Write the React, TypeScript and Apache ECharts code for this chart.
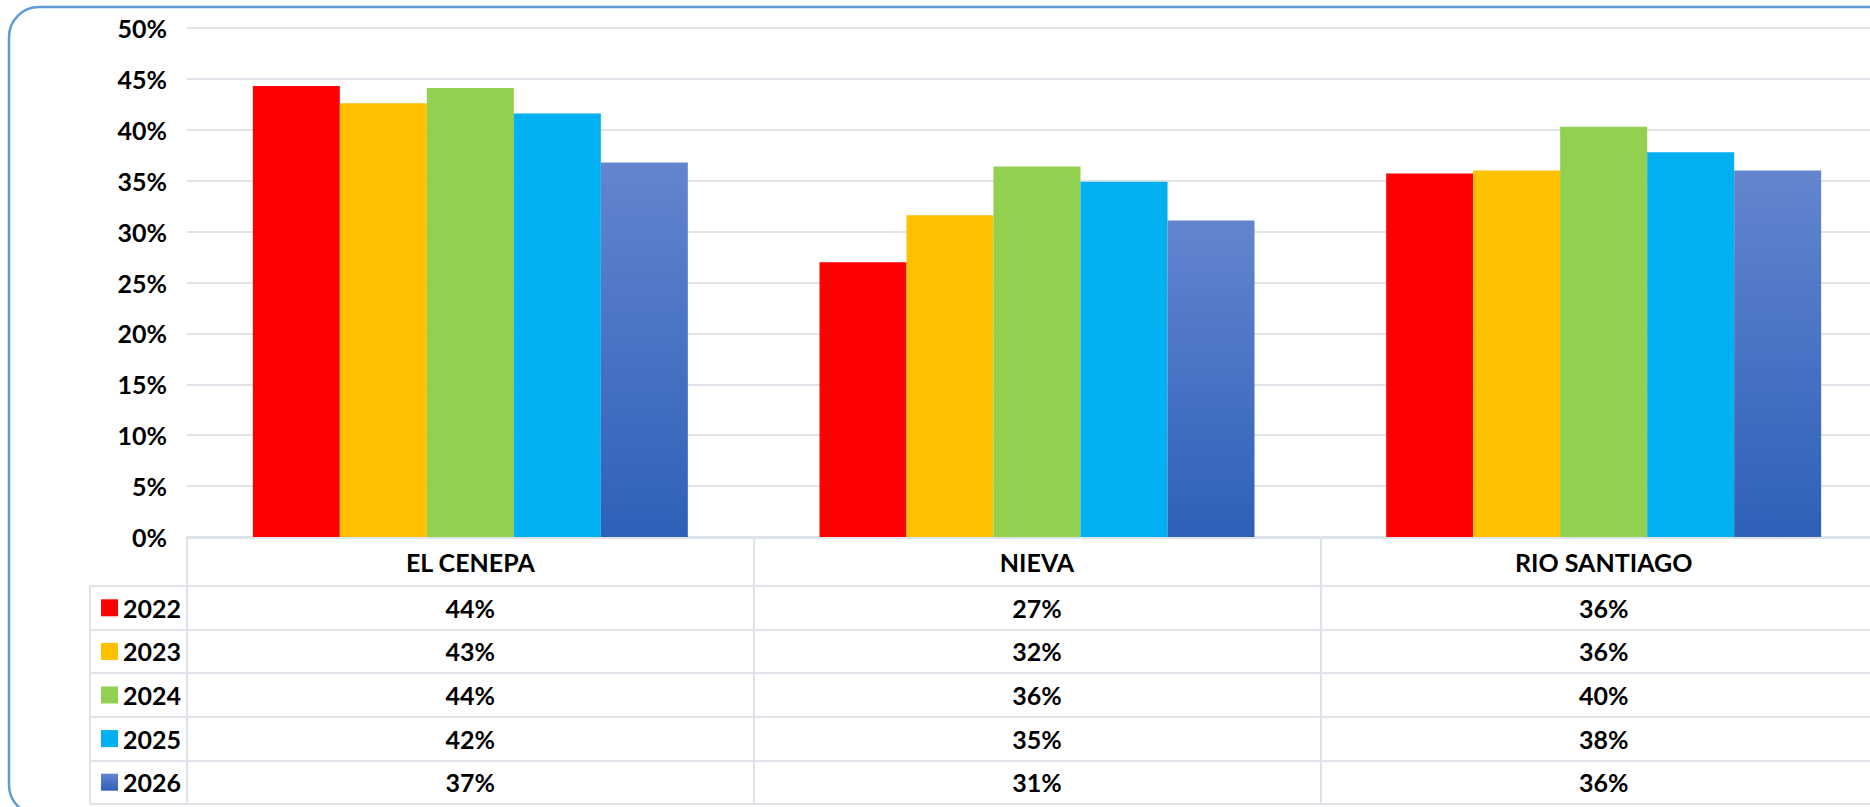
import React, { useEffect, useRef } from 'react';
import * as echarts from 'echarts';

// ---- data ----
const categories = ['EL CENEPA', 'NIEVA', 'RIO SANTIAGO'];
const years = ['2022', '2023', '2024', '2025', '2026'];
const values2022 = [44.3, 27.0, 35.7];
const values2023 = [42.6, 31.6, 36.0];
const values2024 = [44.1, 36.4, 40.3];
const values2025 = [41.6, 34.9, 37.8];
const values2026 = [36.8, 31.1, 36.0];
const yMin = 0;
const yMax = 50;
const yStep = 5;

const FONT = 'Lato, "Open Sans", sans-serif';
const GRID_COLOR = '#DFE3EA';

export default function App() {
  const ref = useRef<HTMLDivElement>(null);

  useEffect(() => {
    if (!ref.current) return;
    const chart = echarts.init(ref.current, undefined, { renderer: 'svg' });

    const grad2026 = () =>
      new echarts.graphic.LinearGradient(0, 0, 0, 1, [
        { offset: 0, color: '#6385CE' },
        { offset: 1, color: '#2E60B9' },
      ]);
    const colors: any[] = ['#FF0000', '#FFC000', '#92D050', '#00B0F0', grad2026()];
    const seriesValues = [values2022, values2023, values2024, values2025, values2026];

    const barSeries = years.map((y, i) => ({
      name: y,
      type: 'bar',
      xAxisIndex: 0,
      yAxisIndex: 0,
      data: seriesValues[i],
      barWidth: 87,
      barGap: '0%',
      itemStyle: { color: i === 4 ? grad2026() : colors[i] },
      silent: true,
    }));

    const tableData: any[] = [];
    years.forEach((y, yi) => {
      categories.forEach((c, ci) => {
        tableData.push([ci, yi, seriesValues[yi][ci]]);
      });
    });

    const rich: any = {
      t: { fontSize: 25, fontWeight: 'bold', color: '#000', fontFamily: FONT, padding: [0, 0, 0, 5] },
    };
    years.forEach((y, i) => {
      rich['s' + i] = { width: 17, height: 17, backgroundColor: i === 4 ? grad2026() : colors[i] };
    });

    const option: any = {
      animation: false,
      backgroundColor: '#fff',
      textStyle: { fontFamily: FONT },
      grid: [
        { left: 187, top: 28, width: 1700, height: 509 },
        { left: 187, top: 586, width: 1700, height: 218, show: true, borderColor: GRID_COLOR, borderWidth: 2 },
        { left: 90, top: 586, width: 97, height: 218, show: true, borderColor: GRID_COLOR, borderWidth: 2 },
      ],
      xAxis: [
        {
          type: 'category',
          gridIndex: 0,
          data: categories,
          axisLine: { show: true, lineStyle: { color: GRID_COLOR, width: 3 } },
          axisTick: { show: true, length: 49, interval: 0, lineStyle: { color: GRID_COLOR, width: 2 } },
          axisLabel: {
            fontSize: 25,
            fontWeight: 'bold',
            color: '#000',
            fontFamily: FONT,
            margin: 25,
            verticalAlign: 'middle',
            interval: 0,
          },
          splitLine: { show: false },
        },
        {
          type: 'category',
          gridIndex: 1,
          data: categories,
          axisLine: { show: false },
          axisTick: { show: false },
          axisLabel: { show: false },
          splitLine: { show: true, interval: 0, lineStyle: { color: GRID_COLOR, width: 2 } },
        },
        { type: 'value', gridIndex: 2, show: false },
      ],
      yAxis: [
        {
          type: 'value',
          gridIndex: 0,
          min: yMin,
          max: yMax,
          interval: yStep,
          axisLine: { show: false },
          axisTick: { show: false },
          axisLabel: {
            formatter: '{value}%',
            fontSize: 25,
            fontWeight: 'bold',
            color: '#000',
            fontFamily: FONT,
            margin: 20,
          },
          splitLine: { show: true, lineStyle: { color: GRID_COLOR, width: 2 } },
        },
        {
          type: 'category',
          gridIndex: 1,
          data: years,
          inverse: true,
          axisLine: { show: false },
          axisTick: { show: false },
          axisLabel: { show: false },
          splitLine: { show: true, interval: 0, lineStyle: { color: GRID_COLOR, width: 2 } },
        },
        {
          type: 'category',
          gridIndex: 2,
          data: years,
          inverse: true,
          axisLine: { show: false },
          axisTick: { show: false },
          axisLabel: {
            inside: true,
            margin: 11,
            interval: 0,
            formatter: (v: string, idx: number) => `{s${idx}|}{t|${v}}`,
            rich,
          },
          splitLine: { show: true, interval: 0, lineStyle: { color: GRID_COLOR, width: 2 } },
        },
      ],
      series: [
        ...barSeries,
        {
          type: 'custom',
          xAxisIndex: 1,
          yAxisIndex: 1,
          silent: true,
          data: tableData,
          encode: { x: 0, y: 1 },
          renderItem: (params: any, api: any) => {
            const pt = api.coord([api.value(0), api.value(1)]);
            return {
              type: 'text',
              x: pt[0],
              y: pt[1],
              style: {
                text: Math.round(api.value(2)) + '%',
                fontSize: 25,
                fontWeight: 'bold',
                fontFamily: FONT,
                fill: '#000',
                align: 'center',
                verticalAlign: 'middle',
              },
            };
          },
        },
      ],
      graphic: [
        {
          type: 'rect',
          silent: true,
          shape: { x: 9, y: 7, width: 1950, height: 808, r: 30 },
          style: { fill: 'none', stroke: '#5E9BD7', lineWidth: 2.5 },
        },
      ],
    };

    chart.setOption(option);
    return () => chart.dispose();
  }, []);

  return (
    <div
      style={{
        position: 'fixed',
        left: 0,
        top: 0,
        width: 1870,
        height: 807,
        overflow: 'hidden',
        background: '#fff',
      }}
    >
      <div ref={ref} style={{ width: 1900, height: 830 }} />
    </div>
  );
}
